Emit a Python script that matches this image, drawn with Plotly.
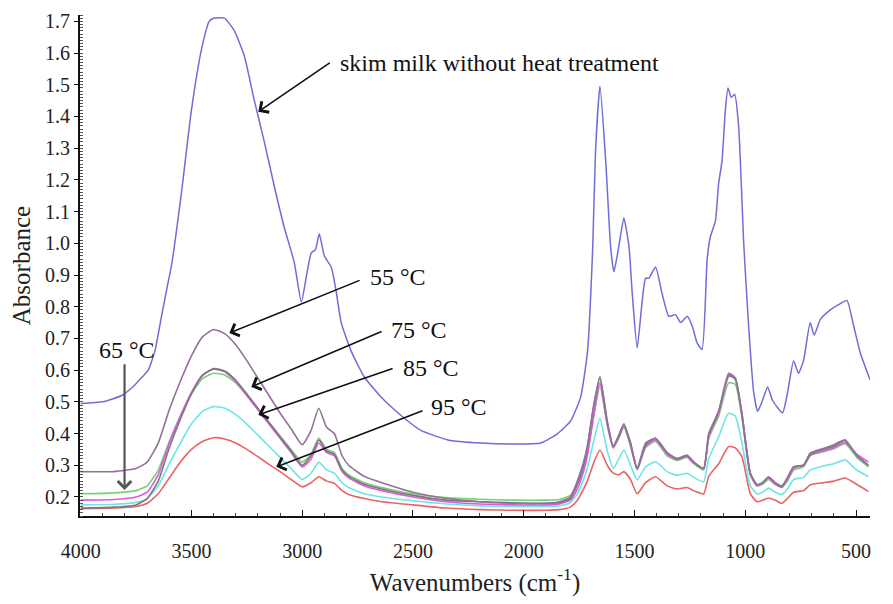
import plotly.graph_objects as go

# Skim milk without heat treatment (own wavenumber grid, cm-1)
WN_RAW = [4000, 3900, 3815, 3760, 3720, 3695, 3665, 3635, 3610, 3590, 3545, 3500,
          3455, 3420, 3400, 3351, 3306, 3261, 3216, 3171, 3126, 3081, 3036, 3004,
          2980, 2959, 2940, 2923, 2900, 2869, 2847, 2824, 2779, 2721, 2644, 2567,
          2464, 2342, 2193, 2045, 1923, 1847, 1788, 1743, 1712, 1689, 1676, 1656,
          1630, 1608, 1593, 1571, 1548, 1525, 1510, 1488, 1465, 1450, 1435, 1405,
          1375, 1345, 1315, 1292, 1262, 1240, 1217, 1195, 1172, 1158, 1135, 1120,
          1105, 1090, 1078, 1063, 1048, 1030, 1007, 985, 962, 944, 922, 899, 877,
          832, 809, 782, 760, 737, 707, 689, 661, 616, 571, 541, 511, 481, 437]
ABS_RAW = [0.495, 0.50, 0.52, 0.55, 0.58, 0.60, 0.66, 0.77, 0.86, 0.93, 1.16, 1.42,
           1.61, 1.70, 1.71, 1.71, 1.67, 1.59, 1.45, 1.32, 1.18, 1.05, 0.94, 0.815,
           0.90, 0.97, 0.98, 1.03, 0.96, 0.925, 0.85, 0.75, 0.66, 0.58, 0.515, 0.465,
           0.41, 0.38, 0.37, 0.367, 0.37, 0.40, 0.44, 0.515, 0.66, 0.98, 1.29, 1.495,
           1.26, 0.99, 0.91, 0.99, 1.08, 0.99, 0.84, 0.67, 0.82, 0.89, 0.89, 0.925,
           0.84, 0.77, 0.775, 0.75, 0.77, 0.74, 0.685, 0.665, 0.95, 1.02, 1.07, 1.19,
           1.26, 1.42, 1.49, 1.46, 1.47, 1.37, 1.00, 0.74, 0.53, 0.47, 0.505, 0.547, 0.505,
           0.465, 0.53, 0.63, 0.59, 0.63, 0.75, 0.71, 0.76, 0.79, 0.81, 0.82, 0.74, 0.655, 0.57]

# Heat-treated samples (shared wavenumber grid, cm-1)
WN = [4000, 3850, 3750, 3700, 3650, 3600, 3550, 3500, 3450, 3400, 3350, 3300, 3250,
      3200, 3150, 3100, 3050, 3000, 2960, 2925, 2890, 2855, 2820, 2790, 2720, 2640,
      2500, 2350, 2200, 2050, 1900, 1840, 1790, 1758, 1730, 1713, 1683, 1656, 1623,
      1596, 1571, 1548, 1518, 1488, 1450, 1405, 1353, 1308, 1263, 1233, 1188, 1165,
      1120, 1075, 1045, 1015, 977, 947, 922, 895, 865, 835, 810, 782, 737, 707, 647,
      600, 549, 497, 444]

ABS_55 = [0.28, 0.28, 0.29, 0.31, 0.37, 0.475, 0.565, 0.645, 0.705, 0.728, 0.715, 0.68, 0.63,
          0.575, 0.52, 0.465, 0.415, 0.365, 0.41, 0.48, 0.42, 0.40, 0.33, 0.30, 0.265, 0.245,
          0.215, 0.195, 0.185, 0.18, 0.18, 0.185, 0.20, 0.25, 0.31, 0.36, 0.495, 0.58, 0.44,
          0.36, 0.39, 0.43, 0.37, 0.29, 0.37, 0.385, 0.34, 0.322, 0.332, 0.311, 0.29, 0.40,
          0.47, 0.59, 0.575, 0.465, 0.275, 0.238, 0.245, 0.264, 0.245, 0.232, 0.26, 0.295, 0.30, 0.338, 0.353,
          0.365, 0.38, 0.332, 0.30]
ABS_65 = [0.21, 0.213, 0.22, 0.235, 0.285, 0.375, 0.455, 0.525, 0.573, 0.59, 0.585, 0.56, 0.52,
          0.477, 0.435, 0.392, 0.35, 0.31, 0.335, 0.386, 0.35, 0.34, 0.29, 0.27, 0.245, 0.23,
          0.21, 0.198, 0.193, 0.19, 0.19, 0.192, 0.205, 0.24, 0.29, 0.335, 0.46, 0.55, 0.425,
          0.355, 0.385, 0.42, 0.36, 0.285, 0.355, 0.375, 0.33, 0.315, 0.325, 0.305, 0.285, 0.385,
          0.455, 0.56, 0.555, 0.45, 0.27, 0.235, 0.24, 0.255, 0.24, 0.23, 0.25, 0.285, 0.295, 0.33, 0.343,
          0.352, 0.368, 0.325, 0.295]
ABS_70 = [0.19, 0.192, 0.20, 0.215, 0.27, 0.37, 0.455, 0.53, 0.585, 0.603, 0.595, 0.565, 0.52,
          0.475, 0.43, 0.385, 0.34, 0.295, 0.32, 0.37, 0.34, 0.33, 0.28, 0.26, 0.235, 0.22,
          0.20, 0.185, 0.178, 0.175, 0.175, 0.178, 0.19, 0.225, 0.28, 0.33, 0.46, 0.56, 0.43,
          0.355, 0.39, 0.425, 0.365, 0.288, 0.36, 0.38, 0.335, 0.318, 0.328, 0.308, 0.29, 0.39,
          0.465, 0.58, 0.575, 0.455, 0.27, 0.235, 0.245, 0.26, 0.24, 0.232, 0.255, 0.29, 0.30, 0.332, 0.345,
          0.355, 0.372, 0.335, 0.31]
ABS_75 = [0.165, 0.168, 0.175, 0.195, 0.25, 0.355, 0.445, 0.525, 0.583, 0.605, 0.597, 0.568, 0.525,
          0.48, 0.435, 0.39, 0.345, 0.30, 0.33, 0.38, 0.345, 0.335, 0.285, 0.265, 0.24, 0.225,
          0.205, 0.19, 0.185, 0.182, 0.18, 0.182, 0.195, 0.24, 0.30, 0.355, 0.49, 0.575, 0.435,
          0.36, 0.395, 0.43, 0.37, 0.29, 0.365, 0.385, 0.34, 0.32, 0.33, 0.31, 0.29, 0.395,
          0.47, 0.585, 0.57, 0.46, 0.275, 0.24, 0.245, 0.262, 0.245, 0.235, 0.26, 0.295, 0.30, 0.335, 0.35,
          0.36, 0.378, 0.33, 0.30]
ABS_85 = [0.175, 0.177, 0.183, 0.195, 0.235, 0.305, 0.37, 0.43, 0.47, 0.485, 0.48, 0.46, 0.43,
          0.395, 0.36, 0.325, 0.29, 0.255, 0.275, 0.31, 0.285, 0.275, 0.245, 0.23, 0.21, 0.20,
          0.188, 0.178, 0.172, 0.17, 0.17, 0.172, 0.182, 0.21, 0.255, 0.29, 0.38, 0.448, 0.345,
          0.29, 0.32, 0.348, 0.30, 0.254, 0.295, 0.311, 0.28, 0.268, 0.275, 0.262, 0.248, 0.32,
          0.39, 0.464, 0.455, 0.37, 0.235, 0.21, 0.215, 0.228, 0.215, 0.208, 0.225, 0.255, 0.262, 0.285, 0.298,
          0.305, 0.317, 0.285, 0.264]
ABS_95 = [0.163, 0.165, 0.17, 0.18, 0.21, 0.26, 0.31, 0.35, 0.375, 0.387, 0.383, 0.37, 0.35,
          0.327, 0.303, 0.28, 0.255, 0.232, 0.245, 0.264, 0.25, 0.243, 0.22, 0.208, 0.195, 0.185,
          0.175, 0.165, 0.16, 0.158, 0.158, 0.16, 0.168, 0.19, 0.225, 0.25, 0.31, 0.348, 0.30,
          0.275, 0.27, 0.28, 0.255, 0.21, 0.245, 0.264, 0.235, 0.225, 0.23, 0.22, 0.21, 0.265,
          0.305, 0.359, 0.355, 0.327, 0.21, 0.185, 0.19, 0.197, 0.19, 0.18, 0.195, 0.215, 0.22, 0.238, 0.245,
          0.25, 0.26, 0.24, 0.217]

SERIES = [
    (ABS_95, "#e86464"),
    (ABS_85, "#70e4e4"),
    (ABS_65, "#74d474"),
    (ABS_70, "#e058e0"),
    (ABS_75, "#7a7a7a"),
    (ABS_55, "#94709a"),
]

SERIF = "Liberation Serif"

fig = go.Figure()
fig.add_trace(go.Scatter(x=WN_RAW, y=ABS_RAW, mode="lines",
                         line=dict(color="#6e6ed8", width=1.5, shape="spline", smoothing=0.5),
                         showlegend=False))
for vals, color in SERIES:
    fig.add_trace(go.Scatter(x=WN, y=vals, mode="lines",
                             line=dict(color=color, width=1.6, shape="spline", smoothing=0.5),
                             showlegend=False))

# label text + arrow (text x, text y, tip x, tip y, tail x, tail y)
labels = [
    ("skim milk without heat treatment", 2838, 1.569, 3198, 1.415, 2869, 1.572),
    ("55 °C", 2703, 0.894, 3329, 0.717, 2734, 0.885),
    ("75 °C", 2608, 0.727, 3230, 0.547, 2635, 0.724),
    ("85 °C", 2554, 0.607, 3198, 0.459, 2585, 0.607),
    ("95 °C", 2428, 0.484, 3117, 0.295, 2450, 0.474),
]
for text, tx, ty, hx, hy, sx, sy in labels:
    fig.add_annotation(x=tx, y=ty, text=text, showarrow=False, xanchor="left",
                       font=dict(family=SERIF, size=24, color="#111"))
    fig.add_annotation(x=hx, y=hy, ax=sx, ay=sy, axref="x", ayref="y", text="",
                       showarrow=True, arrowhead=4, arrowsize=1.6, arrowwidth=1.6,
                       arrowcolor="#111")

fig.add_annotation(x=3793, y=0.664, text="65 °C", showarrow=False,
                   font=dict(family=SERIF, size=24, color="#111"))
fig.add_annotation(x=3802, y=0.222, ax=3802, ay=0.623, axref="x", ayref="y", text="",
                   showarrow=True, arrowhead=4, arrowsize=1.2, arrowwidth=2.2,
                   arrowcolor="#555")

# page body adds an 8px offset, so the figure is 8px smaller than the window
fig.update_layout(
    width=885, height=596,
    margin=dict(l=72, r=23, t=7, b=88),
    paper_bgcolor="white", plot_bgcolor="white",
    font=dict(family=SERIF, size=20, color="#222"),
    xaxis=dict(
        range=[4003, 437], tickvals=[4000, 3500, 3000, 2500, 2000, 1500, 1000, 500],
        showgrid=False, zeroline=False, showline=True, linecolor="#111", linewidth=2,
        ticks="inside", ticklen=6, tickcolor="#111",
        minor=dict(dtick=100, ticks="inside", ticklen=3, tickcolor="#444"),
        ticklabelstandoff=16,
        title=dict(text="Wavenumbers (cm<sup>-1</sup>)", font=dict(size=25), standoff=12),
        automargin=False,
    ),
    yaxis=dict(
        range=[0.14, 1.72], dtick=0.1, tickformat=".1f",
        showgrid=False, zeroline=False, showline=True, linecolor="#111", linewidth=2,
        ticks="outside", ticklen=4, tickcolor="#111",
        minor=dict(dtick=0.01, ticks="inside", ticklen=3, tickcolor="#555"),
        title=dict(text="Absorbance", font=dict(size=25), standoff=14),
        automargin=False,
    ),
)

fig.write_html("out.html")
